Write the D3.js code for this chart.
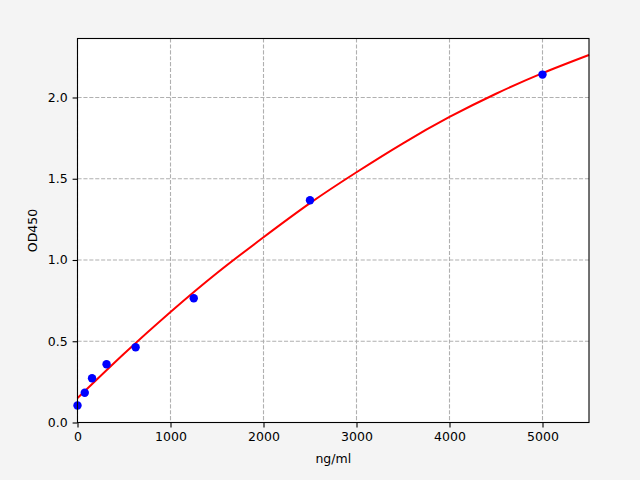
<!DOCTYPE html>
<html>
<head>
<meta charset="utf-8">
<script src="https://d3js.org/d3.v7.min.js"></script>
<style>
  body { margin: 0; background: #f4f4f4; }
  svg { display: block; }
  text { font-family: "DejaVu Sans", sans-serif; fill: #000; }
</style>
</head>
<body>
<div id="chart"></div>
<script>
// standards (measured points)
var conc = [0, 78.125, 156.25, 312.5, 625, 1250, 2500, 5000];
var od   = [0.105, 0.183, 0.272, 0.358, 0.463, 0.765, 1.368, 2.141];

// fitted curve
var fitX = [0, 500, 1000, 1500, 2000, 2500, 3000, 3500, 4000, 4500, 5000, 5500];
var fitY = [0.150, 0.423, 0.680, 0.920, 1.140, 1.350, 1.540, 1.718, 1.880, 2.023, 2.150, 2.262];

var xTicks = [0, 1000, 2000, 3000, 4000, 5000];
var yTicks = [0.0, 0.5, 1.0, 1.5, 2.0];

var width = 640, height = 480;
var mLeft = 77.5, mRight = 589, mTop = 38.5, mBottom = 422.5;
var fontSize = 12.5;

var svg = d3.select('#chart').append('svg')
  .attr('width', width)
  .attr('height', height);

var x = d3.scaleLinear().domain([0, 5500]).range([mLeft, mRight]);
var y = d3.scaleLinear().domain([0, 2.363]).range([mBottom, mTop]);

// plot area
svg.append('rect')
  .attr('x', mLeft).attr('y', mTop)
  .attr('width', mRight - mLeft).attr('height', mBottom - mTop)
  .attr('fill', '#fff');

// grid
svg.append('g').selectAll('line')
  .data(xTicks).enter().append('line')
  .attr('x1', d => x(d)).attr('x2', d => x(d))
  .attr('y1', mTop).attr('y2', mBottom)
  .attr('stroke', '#b0b0b0').attr('stroke-width', 1.1)
  .attr('stroke-dasharray', '4.1,1.8');

svg.append('g').selectAll('line')
  .data(yTicks).enter().append('line')
  .attr('x1', mLeft).attr('x2', mRight)
  .attr('y1', d => y(d)).attr('y2', d => y(d))
  .attr('stroke', '#b0b0b0').attr('stroke-width', 1.1)
  .attr('stroke-dasharray', '4.1,1.8');

// fitted line
var line = d3.line()
  .x((d, i) => x(fitX[i]))
  .y(d => y(d))
  .curve(d3.curveNatural);

svg.append('path')
  .datum(fitY)
  .attr('d', line)
  .attr('fill', 'none')
  .attr('stroke', '#f00')
  .attr('stroke-width', 2);

// points
svg.append('g').selectAll('circle')
  .data(od).enter().append('circle')
  .attr('cx', (d, i) => x(conc[i]))
  .attr('cy', d => y(d))
  .attr('r', 4.2)
  .attr('fill', '#0000ff');

// frame
svg.append('rect')
  .attr('x', mLeft).attr('y', mTop)
  .attr('width', mRight - mLeft).attr('height', mBottom - mTop)
  .attr('fill', 'none').attr('stroke', '#000').attr('stroke-width', 1.1);

// axes
var xAxis = d3.axisBottom(x).tickValues(xTicks).tickFormat(d3.format('d'))
  .tickSize(4.9).tickPadding(4.9);
var yAxis = d3.axisLeft(y).tickValues(yTicks).tickFormat(d3.format('.1f'))
  .tickSize(4.9).tickPadding(4.9);

var gx = svg.append('g').attr('transform', 'translate(0,' + mBottom + ')').call(xAxis);
var gy = svg.append('g').attr('transform', 'translate(' + mLeft + ',0)').call(yAxis);
[gx, gy].forEach(g => {
  g.select('.domain').remove();
  g.selectAll('.tick line').attr('stroke', '#000').attr('stroke-width', 1.1);
  g.selectAll('.tick text').attr('font-size', fontSize).attr('font-family', '"DejaVu Sans", sans-serif').attr('fill', '#000');
});

// axis labels
svg.append('text')
  .attr('x', (mLeft + mRight) / 2).attr('y', 463)
  .attr('text-anchor', 'middle').attr('font-size', fontSize)
  .text('ng/ml');

svg.append('text')
  .attr('transform', 'translate(37,' + ((mTop + mBottom) / 2) + ') rotate(-90)')
  .attr('text-anchor', 'middle').attr('font-size', fontSize)
  .text('OD450');
</script>
</body>
</html>
